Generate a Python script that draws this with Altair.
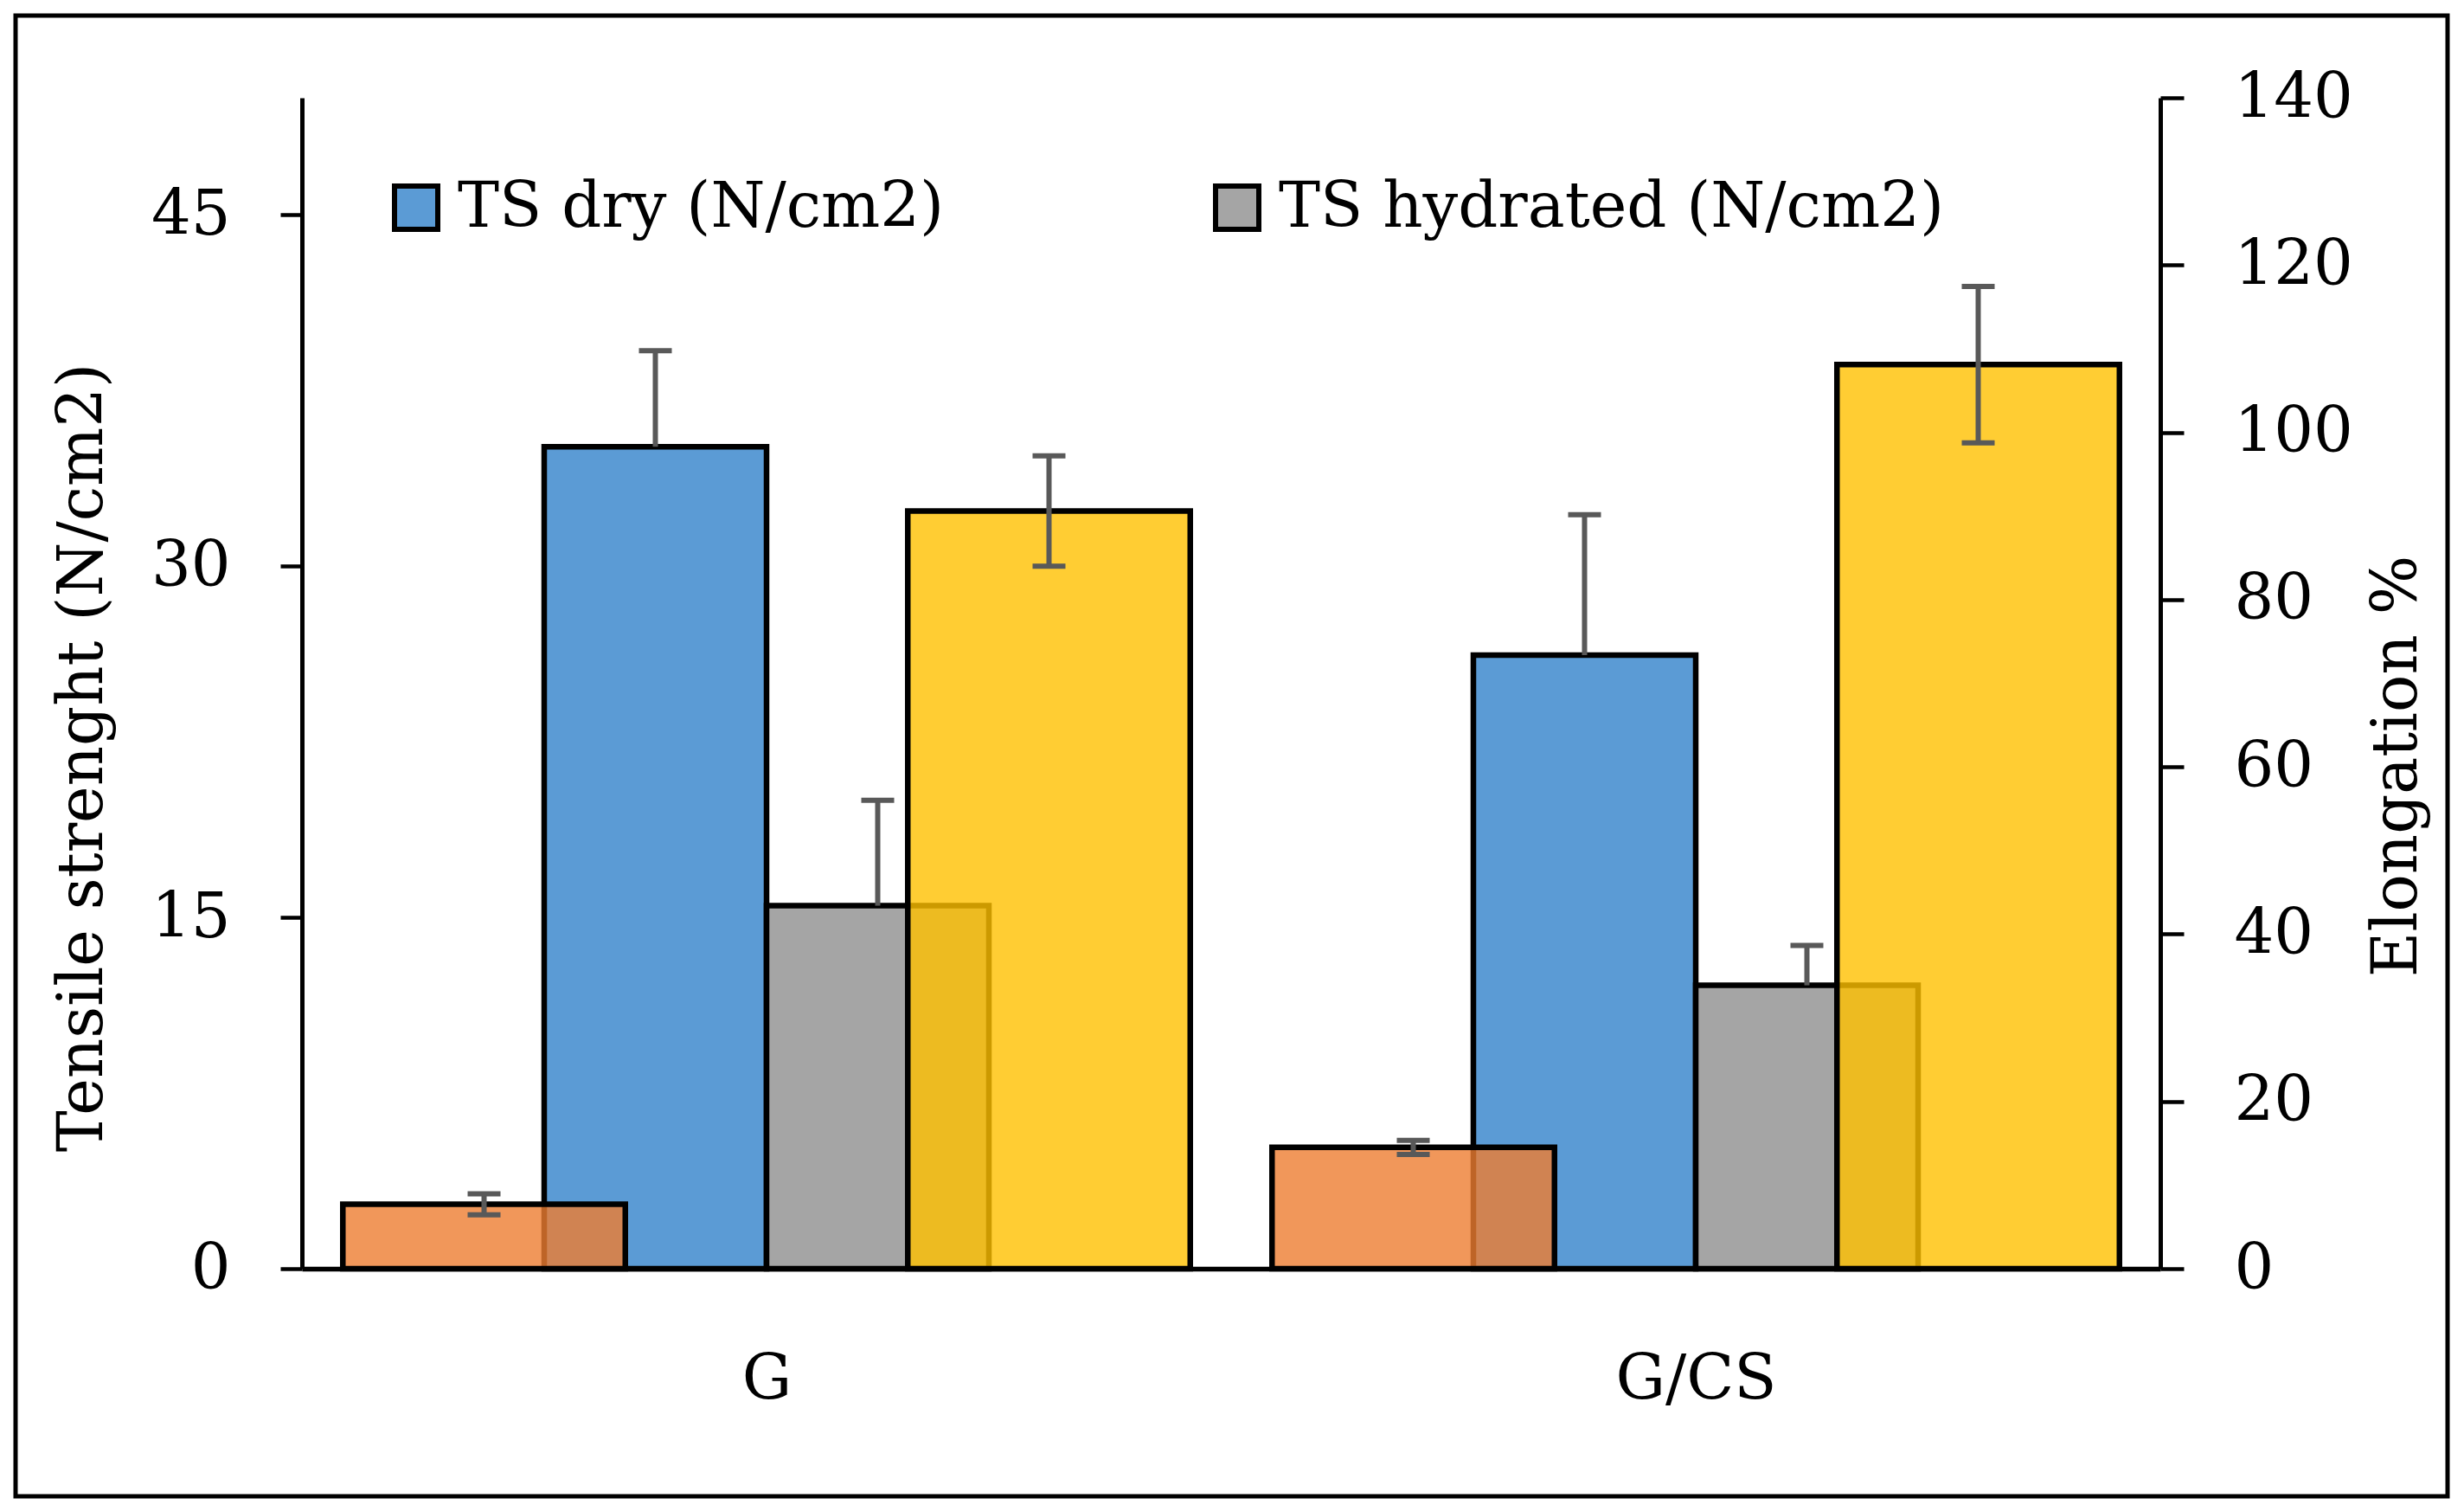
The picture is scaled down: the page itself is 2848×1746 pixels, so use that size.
import json
import altair as alt
import pandas as pd

# ---------------- data ----------------
groups = ["G", "G/CS"]

ts_series = ["TS dry (N/cm2)", "TS hydrated (N/cm2)"]
ts_dry = [35.1, 26.2]
ts_dry_err = [4.1, 6.0]
ts_hyd = [15.5, 12.1]
ts_hyd_err = [4.5, 1.7]

el_series = ["Elongation dry (%)", "Elongation hydrated (%)"]
el_dry = [7.7, 14.5]
el_dry_err = [1.25, 0.85]
el_hyd = [90.6, 108.1]
el_hyd_err = [6.6, 9.35]

left_ticks = [0, 15, 30, 45]
right_ticks = [0, 20, 40, 60, 80, 100, 120, 140]

# ---------------- layout / style ----------------
FONT = "DejaVu Serif"
FS = 72
PW = 0.2393   # primary bar width (group units)
SW = 0.304    # secondary bar width (group units)
W, H = 2148, 1353
PAD = {"left": 341, "top": 105, "right": 343, "bottom": 272}
ERR_COLOR = "#595959"
BAR_STROKE = 6.5
ERR_W = 6

# primary (left axis) table
prim_rows = []
for i, g in enumerate(groups):
    c = i + 0.5
    for j, (s, vals, errs) in enumerate([(ts_series[0], ts_dry, ts_dry_err),
                                          (ts_series[1], ts_hyd, ts_hyd_err)]):
        center = c + (j - 0.5) * PW
        v, e = vals[i], errs[i]
        prim_rows.append(dict(group=g, series=s, value=v, base=0, x=center - PW / 2,
                              x2=center + PW / 2, center=center, lo=v, hi=v + e))
prim_df = pd.DataFrame(prim_rows)

# secondary (right axis) table
sec_rows = []
for i, g in enumerate(groups):
    c = i + 0.5
    for j, (s, vals, errs) in enumerate([(el_series[0], el_dry, el_dry_err),
                                          (el_series[1], el_hyd, el_hyd_err)]):
        center = c + (2 * j - 1) * SW
        v, e = vals[i], errs[i]
        sec_rows.append(dict(group=g, series=s, value=v, base=0, x=center - SW / 2,
                             x2=center + SW / 2, center=center, lo=v - e, hi=v + e))
sec_df = pd.DataFrame(sec_rows)

xscale = alt.Scale(domain=[0, len(groups)], nice=False, zero=False)
yL = alt.Scale(domain=[0, 50], nice=False)
yR = alt.Scale(domain=[0, 140], nice=False)

x_axis = alt.Axis(values=[i + 0.5 for i in range(len(groups))],
                  labelExpr=f"{json.dumps(groups)}[floor(datum.value)]",
                  ticks=False, grid=False, domainColor="black", domainWidth=5.5,
                  labelFont=FONT, labelFontSize=FS, labelColor="black",
                  labelPadding=93, labelLimit=3000, labelOverlap=False, title=None)

left_axis = alt.Axis(values=left_ticks, orient="left", title="Tensile strenght (N/cm2)",
                     titleFont=FONT, titleFontSize=FS, titleFontWeight="normal",
                     titleColor="black", titleAngle=270, titleX=-254, titleY=762,
                     titleAlign="center", titleBaseline="middle",
                     labelFont=FONT, labelFontSize=FS, labelColor="black",
                     labelPadding=58, tickSize=25, tickWidth=4.5, tickColor="black",
                     domainColor="black", domainWidth=5, grid=False)

right_axis = alt.Axis(values=right_ticks, orient="right", title="Elongation %",
                      titleFont=FONT, titleFontSize=FS, titleFontWeight="normal",
                      titleColor="black", titleAngle=270, titleX=273, titleY=772,
                      titleAlign="center", titleBaseline="middle",
                      labelFont=FONT, labelFontSize=FS, labelColor="black",
                      labelPadding=58, tickSize=27, tickWidth=4.5, tickColor="black",
                      domainColor="black", domainWidth=5, grid=False)

legend = alt.Legend(orient="none", legendX=96, legendY=91, direction="horizontal",
                    title=None, symbolType="square", symbolSize=2500,
                    symbolStrokeColor="black", symbolStrokeWidth=6, symbolOpacity=1,
                    labelFont=FONT, labelFontSize=FS, labelColor="black",
                    labelOffset=12, columnPadding=301, padding=0, labelLimit=3000)


def X(field):
    return alt.X(field, scale=xscale, axis=x_axis)


prim_bars = alt.Chart(prim_df).mark_bar(stroke="black", strokeWidth=BAR_STROKE, strokeJoin="miter").encode(
    x=X("x:Q"),
    x2="x2:Q",
    y=alt.Y("value:Q", scale=yL, axis=left_axis),
    y2="base:Q",
    color=alt.Color("series:N", scale=alt.Scale(domain=ts_series, range=["#5B9BD5", "#A5A5A5"]),
                    legend=legend),
)
prim_stem = alt.Chart(prim_df).mark_rule(color=ERR_COLOR, strokeWidth=ERR_W).encode(
    x=X("center:Q"),
    y=alt.Y("lo:Q", scale=yL, axis=left_axis),
    y2="hi:Q",
)
prim_cap = alt.Chart(prim_df).mark_tick(orient="horizontal", color=ERR_COLOR, size=38,
                                        thickness=ERR_W, opacity=1).encode(
    x=X("center:Q"),
    y=alt.Y("hi:Q", scale=yL, axis=left_axis),
)
primary = alt.layer(prim_bars, prim_stem, prim_cap)

sec_bars = alt.Chart(sec_df).mark_bar(stroke="black", strokeWidth=BAR_STROKE, strokeJoin="miter",
                                      fillOpacity=0.8, strokeOpacity=1).encode(
    x=X("x:Q"),
    x2="x2:Q",
    y=alt.Y("value:Q", scale=yR, axis=right_axis),
    y2="base:Q",
    color=alt.Color("series:N", scale=alt.Scale(domain=el_series, range=["#ED7D31", "#FFC000"]),
                    legend=None),
)
sec_stem = alt.Chart(sec_df).mark_rule(color=ERR_COLOR, strokeWidth=ERR_W).encode(
    x=X("center:Q"),
    y=alt.Y("lo:Q", scale=yR, axis=right_axis),
    y2="hi:Q",
)
sec_cap_hi = alt.Chart(sec_df).mark_tick(orient="horizontal", color=ERR_COLOR, size=38,
                                         thickness=ERR_W, opacity=1).encode(
    x=X("center:Q"),
    y=alt.Y("hi:Q", scale=yR, axis=right_axis),
)
sec_cap_lo = alt.Chart(sec_df).mark_tick(orient="horizontal", color=ERR_COLOR, size=38,
                                         thickness=ERR_W, opacity=1).encode(
    x=X("center:Q"),
    y=alt.Y("lo:Q", scale=yR, axis=right_axis),
)
secondary = alt.layer(sec_bars, sec_stem, sec_cap_hi, sec_cap_lo)

frame = alt.Chart(alt.Data(values=[{}])).mark_rect(fill=None, stroke="black", strokeWidth=5).encode(
    x=alt.value(-331), x2=alt.value(2480), y=alt.value(-95), y2=alt.value(1616)
)

chart = alt.layer(primary, secondary, frame).resolve_scale(
    y="independent", color="independent"
).properties(
    width=W, height=H,
    autosize=alt.AutoSizeParams(type="none"),
    padding=PAD,
    background="white",
).configure_view(stroke=None)

chart.save("out.html", embed_options={"renderer": "svg", "actions": False})
